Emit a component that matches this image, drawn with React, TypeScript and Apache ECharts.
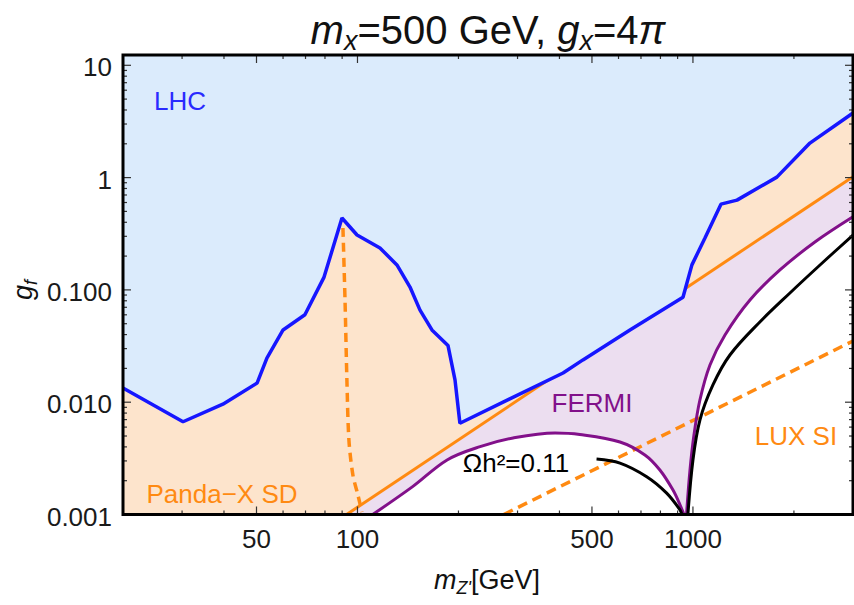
import React, { useEffect, useRef } from 'react';
import * as echarts from 'echarts';

type P = [number, number];

const xRange: P = [20, 3000];
const yRange: P = [0.001, 12.35];

// LHC exclusion boundary (blue)
const lhcBound: P[] = [
  [20, 0.0134], [30.2, 0.0067], [39.7, 0.0096], [50.2, 0.0148], [53.7, 0.0247],
  [60, 0.044], [69.7, 0.06], [79.5, 0.13], [89.9, 0.437], [99.7, 0.308],
  [116.7, 0.236], [131.1, 0.167], [143.4, 0.106], [153.6, 0.066], [166.7, 0.044],
  [186.1, 0.032], [195.3, 0.0158], [202, 0.0065], [410, 0.0182], [470, 0.0238],
  [649, 0.044], [934, 0.086], [993, 0.167], [1086, 0.29], [1212, 0.58],
  [1353, 0.63], [1779, 1.01], [2232, 2.03], [3000, 3.76],
];

// Panda-X SD (orange solid)
const pandaSolid: P[] = [[92.8, 0.001], [3000, 1.02]];
// Panda-X second branch (orange dashed)
const pandaDashed: P[] = [
  [90.5, 0.356], [91.8, 0.0813], [93.0, 0.0158], [94.3, 0.0046],
  [96.9, 0.00225], [100.3, 0.00149], [103.1, 0.00105],
];
// LUX SI (orange dashed)
const luxDashed: P[] = [[273, 0.001], [3000, 0.0351]];

// FERMI (purple)
const fermiLeft: P[] = [
  [111, 0.001], [146, 0.00177], [185, 0.00306], [232, 0.00402], [291, 0.0048],
  [388, 0.00532], [460, 0.00516], [606, 0.00442], [719, 0.00339], [797, 0.00249],
  [872, 0.00165], [915, 0.00122], [940, 0.001],
];
const fermiRight: P[] = [
  [957, 0.001], [980, 0.00249], [1007, 0.0051], [1049, 0.01046], [1124, 0.02145],
  [1246, 0.0397], [1479, 0.0813], [1817, 0.1504], [2310, 0.267], [3000, 0.448],
];

// Relic density Omega h^2 = 0.11 (black)
const relicLeft: P[] = [
  [516, 0.00312], [606, 0.00287], [728, 0.00217], [835, 0.00155], [915, 0.0011], [927, 0.001],
];
const relicRight: P[] = [
  [966, 0.001], [1000, 0.00306], [1049, 0.00694], [1147, 0.01423], [1289, 0.02633],
  [1583, 0.0518], [1946, 0.0939], [2392, 0.1666], [3000, 0.308],
];

const yMajorTicks = [0.001, 0.01, 0.1, 1, 10];
const yTickLabels = ['0.001', '0.010', '0.100', '1', '10'];
const yMinorTicks = [
  0.002, 0.003, 0.004, 0.005, 0.006, 0.007, 0.008, 0.009,
  0.02, 0.03, 0.04, 0.05, 0.06, 0.07, 0.08, 0.09,
  0.2, 0.3, 0.4, 0.5, 0.6, 0.7, 0.8, 0.9,
  2, 3, 4, 5, 6, 7, 8, 9,
];
const xMajorTicks = [50, 100, 500, 1000];
const xTickLabels = ['50', '100', '500', '1000'];
const xMinorTicks = [20, 30, 40, 60, 70, 80, 90, 200, 300, 400, 600, 700, 800, 900, 2000, 3000];

const FONT = '"Liberation Sans", Arial, sans-serif';

const C = {
  lhcFill: '#dbebfc',
  pandaFill: '#fde4cc',
  fermiFill: '#ecdef0',
  blue: '#1616ff',
  orange: '#ff8a12',
  purple: '#82108a',
  black: '#000000',
};

function polySeries(pts: P[], fill: string, z: number) {
  return {
    type: 'custom',
    coordinateSystem: 'cartesian2d',
    silent: true,
    z,
    data: [pts[0]],
    renderItem: (_p: any, api: any) => ({
      type: 'polygon',
      shape: { points: pts.map((p) => api.coord(p)) },
      style: { fill },
    }),
  };
}

function lineSeries(pts: P[], color: string, width: number, z: number, dash?: number[], smooth: number | boolean = false) {
  return {
    type: 'line',
    data: pts,
    symbol: 'none',
    silent: true,
    z,
    clip: true,
    smooth,
    lineStyle: { color, width, type: dash ? dash : 'solid', cap: 'butt' },
  };
}

const frameSeries = {
  type: 'custom',
  coordinateSystem: 'cartesian2d',
  silent: true,
  z: 10,
  data: [[xRange[0], yRange[0]]],
  renderItem: (_p: any, api: any) => {
    const ch: any[] = [];
    const tick = (x1: number, y1: number, x2: number, y2: number) =>
      ch.push({ type: 'line', shape: { x1, y1, x2, y2 }, style: { stroke: '#333', lineWidth: 1.2 } });
    const label = (t: string, x: number, y: number, align: string, va: string) =>
      ch.push({
        type: 'text', x, y,
        style: { text: t, fill: '#1a1a1a', fontSize: 26, fontFamily: FONT, align, verticalAlign: va },
      });
    yMajorTicks.forEach((v, i) => {
      const l = api.coord([xRange[0], v]);
      const r = api.coord([xRange[1], v]);
      tick(l[0], l[1], l[0] + 8, l[1]);
      tick(r[0], r[1], r[0] - 8, r[1]);
      label(yTickLabels[i], l[0] - 11, l[1] + 2, 'right', 'middle');
    });
    yMinorTicks.forEach((v) => {
      const l = api.coord([xRange[0], v]);
      const r = api.coord([xRange[1], v]);
      tick(l[0], l[1], l[0] + 4, l[1]);
      tick(r[0], r[1], r[0] - 4, r[1]);
    });
    xMajorTicks.forEach((v, i) => {
      const b = api.coord([v, yRange[0]]);
      const t = api.coord([v, yRange[1]]);
      tick(b[0], b[1], b[0], b[1] - 8);
      tick(t[0], t[1], t[0], t[1] + 8);
      label(xTickLabels[i], b[0], b[1] + 11, 'center', 'top');
    });
    xMinorTicks.forEach((v) => {
      const b = api.coord([v, yRange[0]]);
      const t = api.coord([v, yRange[1]]);
      tick(b[0], b[1], b[0], b[1] - 4);
      tick(t[0], t[1], t[0], t[1] + 4);
    });
    const bl = api.coord([xRange[0], yRange[0]]);
    const tr = api.coord([xRange[1], yRange[1]]);
    ch.push({
      type: 'rect',
      shape: { x: bl[0], y: tr[1], width: tr[0] - bl[0], height: bl[1] - tr[1] },
      style: { fill: 'none', stroke: '#000', lineWidth: 3 },
    });
    return { type: 'group', children: ch };
  },
};

function richText(text: string, x: number, y: number, size: number, color: string, extra: any = {}) {
  const sub = Math.round(size * 0.68);
  return {
    type: 'text',
    x, y,
    z: 100,
    ...extra,
    style: {
      text,
      fill: color,
      fontSize: size,
      fontFamily: FONT,
      align: 'center',
      verticalAlign: 'middle',
      rich: {
        n: { fontSize: size, fontFamily: FONT, fill: color, lineHeight: Math.round(size * 1.22) },
        i: { fontSize: size, fontFamily: FONT, fill: color, fontStyle: 'italic', lineHeight: Math.round(size * 1.22) },
        s: { fontSize: sub, fontFamily: FONT, fill: color, fontStyle: 'italic', lineHeight: sub, verticalAlign: 'bottom' },
      },
    },
  };
}

function plainText(text: string, x: number, y: number, color: string) {
  return {
    type: 'text',
    x, y,
    z: 100,
    style: { text, fill: color, fontSize: 26, fontFamily: FONT, align: 'center', verticalAlign: 'middle' },
  };
}

export default function App() {
  const ref = useRef<HTMLDivElement>(null);
  useEffect(() => {
    if (!ref.current) return;
    const chart = echarts.init(ref.current, null, { renderer: 'svg' });
    const axisCommon = {
      type: 'log',
      logBase: 10,
      axisLine: { show: false },
      axisTick: { show: false },
      axisLabel: { show: false },
      splitLine: { show: false },
    };
    chart.setOption({
      animation: false,
      backgroundColor: '#ffffff',
      grid: { left: 123, right: 1, top: 55, bottom: 90.5, containLabel: false, outerBoundsMode: 'none' },
      xAxis: { ...axisCommon, min: xRange[0], max: xRange[1] },
      yAxis: { ...axisCommon, min: yRange[0], max: yRange[1] },
      graphic: [
        richText('{i|m}{s|x}{n|=500 GeV, }{i|g}{s|x}{n|=4}{i|π}', 488, 30, 40, '#111'),
        richText('{i|m}{s|Z\'}{n|[GeV]}', 487, 580, 27, '#111'),
        richText('{i|g}{s|f}', 23, 290, 27, '#111', { rotation: Math.PI / 2 }),
        plainText('LHC', 180, 101, '#2a2aff'),
        plainText('Panda\u2212X SD', 222, 494, C.orange),
        plainText('FERMI', 592, 403, C.purple),
        plainText('LUX SI', 796, 436, C.orange),
        plainText('\u03A9h\u00B2=0.11', 516, 463, '#000'),
      ],
      series: [
        polySeries([[xRange[0], yRange[0]], ...lhcBound, [xRange[1], yRange[0]]], C.pandaFill, 1),
        polySeries([...pandaSolid, [xRange[1], yRange[0]]], C.fermiFill, 1),
        polySeries(fermiLeft, '#ffffff', 1),
        polySeries([...fermiRight, [xRange[1], yRange[0]]], '#ffffff', 1),
        lineSeries(pandaSolid, C.orange, 3, 2),
        polySeries([[xRange[0], yRange[1]], ...lhcBound, [xRange[1], yRange[1]]], C.lhcFill, 3),
        lineSeries(pandaDashed, C.orange, 3.5, 4, [9, 6], 0.3),
        lineSeries(luxDashed, C.orange, 3.5, 4, [10, 6]),
        lineSeries(fermiLeft, C.purple, 3, 4, undefined, 0.35),
        lineSeries(fermiRight, C.purple, 3, 4, undefined, 0.35),
        lineSeries(relicLeft, C.black, 3, 4, undefined, 0.35),
        lineSeries(relicRight, C.black, 3, 4, undefined, 0.35),
        lineSeries(lhcBound, C.blue, 3.5, 5),
        frameSeries,
      ],
    });
    return () => chart.dispose();
  }, []);
  return (
    <div
      ref={ref}
      style={{ position: 'absolute', left: 0, top: 0, width: 854, height: 605, background: '#fff' }}
    />
  );
}
